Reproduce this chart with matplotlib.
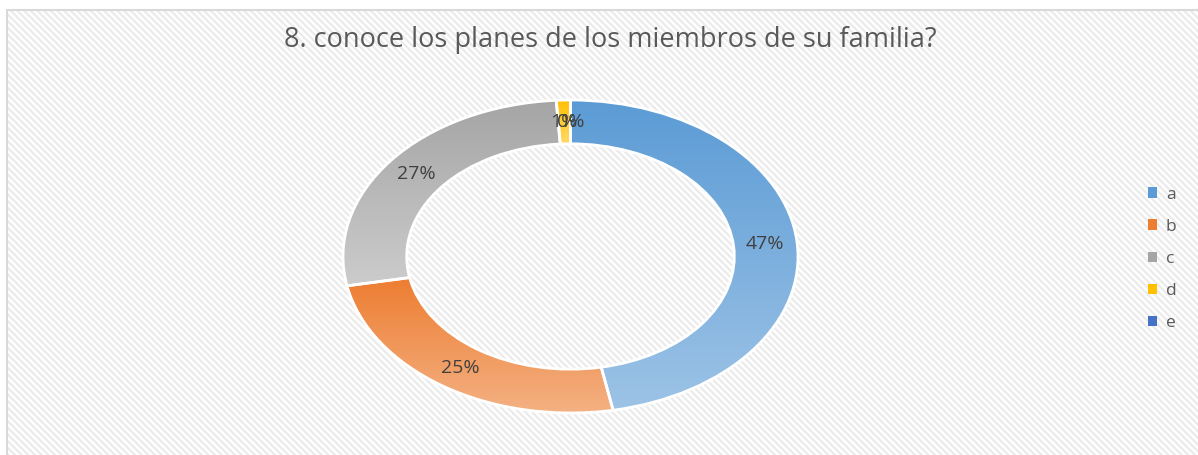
import numpy as np
import matplotlib
matplotlib.use("Agg")
import matplotlib.pyplot as plt
from matplotlib.patches import Rectangle, Patch
from matplotlib.colors import to_rgb

plt.rcParams['font.family'] = ['Open Sans', 'DejaVu Sans']
plt.rcParams['hatch.linewidth'] = 1.6

title = "8. conoce los planes de los miembros de su familia?"
categories = ["a", "b", "c", "d", "e"]
values = [47, 25, 27, 1, 0]
# gradient colours for each slice (top -> bottom), like the Excel fill
top_colors = ["#5B9BD5", "#ED7D31", "#A5A5A5", "#FFC000", "#4472C4"]
bottom_colors = ["#9DC3E6", "#F4B183", "#CCCCCC", "#FFD966", "#8FAADC"]

W, H = 1198, 455
fig = plt.figure(figsize=(W / 100, H / 100), dpi=100)
fig.patch.set_facecolor("white")

# hatched chart area with light border
bg = Rectangle((7 / W, -10 / H), 1.05, 455 / H, transform=fig.transFigure,
               facecolor="white", edgecolor="#ebebeb", hatch="\\\\\\\\\\", lw=0, zorder=-3)
fig.patches.append(bg)
border = Rectangle((7 / W, -10 / H), 1.05, 455 / H, transform=fig.transFigure,
                   fill=False, edgecolor="#d9d9d9", lw=1.5, zorder=-2)
fig.patches.append(border)

# donut axes (ellipse, stretched horizontally like the reference)
cx, cy, rx, ry = 570.5, 256.5, 227.5, 156.5
pad = 1.05
ax = fig.add_axes([(cx - rx * pad) / W, (H - cy - ry * pad) / H,
                   2 * rx * pad / W, 2 * ry * pad / H])
ax.set_zorder(2)

wedges, texts, autotexts = ax.pie(
    values, startangle=90, counterclock=False, radius=1.0,
    autopct=lambda p: "%.0f%%" % p, pctdistance=0.86,
    wedgeprops=dict(width=0.28, facecolor="none", edgecolor="white", linewidth=2),
    textprops=dict(color="#404040", fontsize=14))

for w, c0, c1 in zip(wedges, top_colors, bottom_colors):
    w.set_zorder(3)
    if w.theta1 == w.theta2:
        continue
    bb = w.get_path().get_extents()
    t = np.linspace(0, 1, 256)[:, None]
    grad = (1 - t) * np.array(to_rgb(c0)) + t * np.array(to_rgb(c1))
    img = ax.imshow(grad[:, None, :], extent=(bb.x0, bb.x1, bb.y0, bb.y1),
                    origin="upper", aspect="auto", zorder=2, interpolation="bilinear")
    img.set_clip_path(w)

for t in autotexts:
    t.set_zorder(5)

ax.set_aspect("auto")
ax.set_xlim(-pad, pad)
ax.set_ylim(-pad, pad)
ax.axis("off")

fig.text(610 / W, 1 - 40 / H, title, ha="center", va="center",
         fontsize=19.5, color="#595959")

handles = [Patch(facecolor=c, edgecolor="none") for c in top_colors]
leg = fig.legend(handles, categories, loc="center left",
                 bbox_to_anchor=(1132 / W, 1 - 259 / H), frameon=False,
                 fontsize=12.5, handlelength=0.55, handleheight=0.55,
                 handletextpad=0.5, labelspacing=0.93)
for txt in leg.get_texts():
    txt.set_color("#595959")

fig.savefig("out.png", dpi=100)
